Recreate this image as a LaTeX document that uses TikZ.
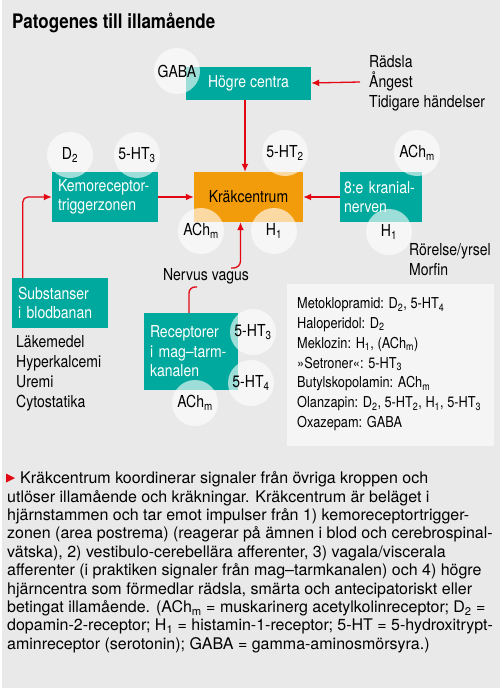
\documentclass[tikz,border=0pt]{standalone}
\usepackage{fontspec}
\setmainfont{TeX Gyre Heros}
\newfontfamily\labelfont[FakeStretch=0.85]{TeX Gyre Heros}
\usetikzlibrary{arrows.meta}

\definecolor{bggray}{HTML}{E9E9E9}
\definecolor{boxteal}{HTML}{00A99D}
\definecolor{kcorange}{HTML}{F39C0B}
\definecolor{arrowred}{HTML}{E30613}
\definecolor{listwhite}{HTML}{F5F5F5}
\newcommand{\lowsub}[1]{\textsubscript{#1}}

\tikzset{
  tealbox/.style={fill=boxteal,text=white,inner xsep=6pt,inner ysep=0pt,align=left,
    font=\labelfont\fontsize{16.5}{19.5}\selectfont},
  bubble/.style={circle,fill=white,fill opacity=.62,text opacity=1,minimum size=46pt,inner sep=0pt,
    font=\labelfont\fontsize{16.5}{19.5}\selectfont},
  redarrow/.style={draw=arrowred,line width=1.3pt,-{Latex[length=8pt,width=7pt]}},
  redline/.style={draw=arrowred,line width=1.3pt},
  labeltext/.style={font=\labelfont\fontsize{16.5}{20}\selectfont,align=left,inner sep=0pt}
}

\begin{document}
\begin{tikzpicture}[x=1pt,y=-1pt]
\useasboundingbox (0,0) rectangle (500,688);
\fill[white] (0,0) rectangle (500,688);
\fill[bggray] (2,0) rectangle (500,688);

\node[anchor=base west,inner sep=0pt,font=\labelfont\bfseries\fontsize{20}{22}\selectfont] (title) at (12,28) {Patogenes till illamående};

% boxes
\node[tealbox,align=center,minimum width=125pt,minimum height=33pt] (hogre) at (248.5,83) {Högre centra};
\node[tealbox,fill=kcorange,text=black,align=center,minimum width=109pt,minimum height=50pt] (kc) at (248.5,197) {Kräkcentrum};
\node[tealbox,text width=94pt,minimum height=50pt] (kemo) at (105,197) {Kemoreceptor-\\triggerzonen};
\node[tealbox,inner xsep=4pt,text width=74pt,minimum height=50pt] (nerv) at (381,197) {8:e kranial-\\nerven};
\node[tealbox,text width=84pt,minimum height=50pt] (subst) at (60,303) {Substanser\\i blodbanan};
\node[tealbox,text width=82pt,minimum height=77pt] (recep) at (191,351.5) {Receptorer\\i mag–tarm-\\kanalen};

% receptor bubbles
\node[bubble] (gaba) at (177,71) {GABA};
\node[bubble] (kemod) at (70,155) {D\lowsub{2}};
\node[bubble] (kemoht) at (137,155) {5-HT\lowsub{3}};
\node[bubble] (kcht) at (285,153) {5-HT\lowsub{2}};
\node[bubble] (kcach) at (201,231) {ACh\lowsub{m}};
\node[bubble] (kch) at (274,231) {H\lowsub{1}};
\node[bubble] (nervach) at (417,153) {ACh\lowsub{m}};
\node[bubble] (nervh) at (389,232) {H\lowsub{1}};
\node[bubble] (recht3) at (253,332) {5-HT\lowsub{3}};
\node[bubble] (recht4) at (251,383) {5-HT\lowsub{4}};
\node[bubble] (recach) at (195,403) {ACh\lowsub{m}};

% side texts
\node[labeltext,anchor=north west] (fears) at (369,55) {Rädsla\\Ångest\\Tidigare händelser};
\node[labeltext,anchor=north west] (motion) at (409,243) {Rörelse/yrsel\\Morfin};
\node[labeltext,anchor=north west] (causes) at (16,335) {Läkemedel\\Hyperkalcemi\\Uremi\\Cytostatika};
\node[labeltext] (vagus) at (206,276) {Nervus vagus};

% connectors
\coordinate (fearin) at (360,82);
\coordinate (vagbot) at (197,287);
\coordinate (vagtop) at (231,268);
\draw[redarrow] (fearin) -- (hogre.east);
\draw[redarrow] ([xshift=-3.5pt]hogre.south) -- ([xshift=-3.5pt]kc.north);
\draw[redarrow] (kemo.east) -- (kc.west);
\draw[redarrow] (nerv.west) -- (kc.east);
\draw[redarrow,rounded corners=5pt] ([xshift=11pt]subst.north west) |- (kemo.west);
\draw[redline,rounded corners=6pt] ([xshift=-2pt]recep.north) |- (vagbot);
\draw[redarrow,rounded corners=7pt] (vagtop) -| ([xshift=-8pt]kc.south);

% drug list
\fill[listwhite] (287,284) rectangle (494,446);
\node[labeltext,anchor=north west,font=\labelfont\fontsize{15}{19.8}\selectfont] (drugs) at (297,297.5) {Metoklopramid: D\lowsub{2}, 5-HT\lowsub{4}\\
Haloperidol: D\lowsub{2}\\
Meklozin: H\lowsub{1}, (ACh\lowsub{m})\\
»Setroner«: 5-HT\lowsub{3}\\
Butylskopolamin: ACh\lowsub{m}\\
Olanzapin: D\lowsub{2}, 5-HT\lowsub{2}, H\lowsub{1}, 5-HT\lowsub{3}\\
Oxazepam: GABA};

% caption
\fill[arrowred] (6,473.5) -- (15,478) -- (6,482.5) -- cycle;
\node[anchor=north west,inner sep=0pt,align=left,font=\fontsize{16}{18.4}\selectfont] (caption) at (7,471.5) {\hspace*{13pt}Kräkcentrum koordinerar signaler från övriga kroppen och\\
utlöser illamående och kräkningar. Kräkcentrum är beläget i\\
hjärnstammen och tar emot impulser från 1) kemoreceptortrigger-\\
zonen (area postrema) (reagerar på ämnen i blod och cerebrospinal-\\
vätska), 2) vestibulo-cerebellära afferenter, 3) vagala/viscerala\\
afferenter (i praktiken signaler från mag–tarmkanalen) och 4) högre\\
hjärncentra som förmedlar rädsla, smärta och antecipatoriskt eller\\
betingat illamående. (ACh\lowsub{m} = muskarinerg acetylkolinreceptor; D\lowsub{2} =\\
dopamin-2-receptor; H\lowsub{1} = histamin-1-receptor; 5-HT = 5-hydroxitrypt-\\
aminreceptor (serotonin); GABA = gamma-aminosmörsyra.)};
\end{tikzpicture}
\end{document}
